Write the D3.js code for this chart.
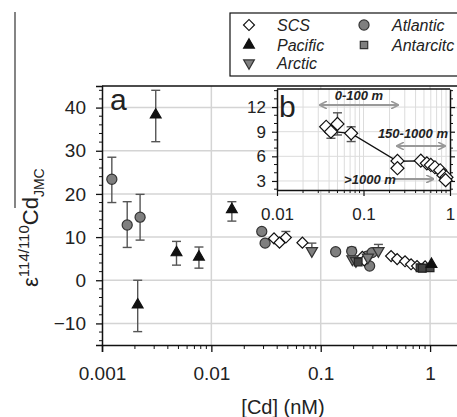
<!DOCTYPE html>
<html>
<head>
<meta charset="utf-8">
<script src="https://cdn.jsdelivr.net/npm/d3@7"></script>
<style>
  body { margin: 0; background: #fff; }
  svg text { font-family: "Liberation Sans", Arial, sans-serif; fill: #222; }
</style>
</head>
<body>
<svg id="chart" width="457" height="417"></svg>
<script>
// main panel (a) data, [Cd] in nM, epsilon values, error bar ends (null = none)
var scsX  = [0.0374, 0.042, 0.048, 0.068, 0.24, 0.25, 0.44, 0.5, 0.59, 0.67, 0.76, 0.9];
var scsY  = [9.7, 8.7, 9.9, 8.7, 5.4, 4.6, 5.6, 4.9, 4.4, 3.7, 3.3, 3.2];
var scsHi = [null, null, 11.3, null, null, null, null, null, null, null, null, null];

var pacX  = [0.00212, 0.0031, 0.0048, 0.0077, 0.0154, 1.03];
var pacY  = [-5.7, 38.3, 6.4, 5.4, 16.4, 3.7];
var pacLo = [-11.9, 32.1, 3.5, 2.8, 13.7, null];
var pacHi = [0, 44, 9, 7.7, 18.2, null];

var arcX  = [0.083, 0.195, 0.21, 0.27, 0.337];
var arcY  = [6.8, 4.9, 4.5, 5.3, 6.8];
var arcHi = [8.6, null, null, null, 8.3];

var atlX  = [0.00123, 0.0017, 0.00223, 0.0289, 0.031, 0.137, 0.192, 0.265, 0.28, 0.295];
var atlY  = [23.4, 12.8, 14.6, 11.3, 8.6, 6.6, 6.7, 5.6, 3.3, 6.4];
var atlLo = [18, 7.6, 9.3, null, null, null, null, null, null, null];
var atlHi = [28.5, 18.2, 19.9, null, null, null, 7.6, null, null, null];

var antX  = [0.22, 0.81, 0.85, 1.0];
var antY  = [4.2, 2.9, 2.8, 2.9];

// inset (b) SCS data
var insX  = [0.037, 0.042, 0.050, 0.072, 0.247, 0.247, 0.46, 0.54, 0.60, 0.67, 0.77, 0.84, 0.91, 0.89];
var insY  = [9.6, 9.0, 9.95, 8.8, 5.44, 4.55, 5.47, 5.15, 4.95, 4.67, 4.3, 3.7, 3.45, 3.1];
var insLo = [null, 8.2, 8.6, 7.8, null, null, null, null, null, null, null, null, null, null];
var insHi = [null, null, 11.3, 9.6, null, null, null, null, null, null, null, null, null, null];
var trendX = [0.043, 0.072, 0.247, 0.46, 0.60, 0.77, 0.90];
var trendY = [9.0, 8.8, 5.4, 5.45, 4.95, 4.3, 3.3];

// depth ranges drawn as arrows in inset
var depthLabels = ["0-100 m", "150-1000 m", ">1000 m"];
var depthFrom   = [0.0314, 0.245, 0.23];
var depthTo     = [0.25, 0.875, 0.64];
var depthEps    = [12.25, 7.26, 3.24];

var yTicks = [-10, 0, 10, 20, 30, 40];
var xTicks = [0.001, 0.01, 0.1, 1];
var xTickLabels = ["0.001", "0.01", "0.1", "1"];
var yiTicks = [3, 6, 9, 12];
var xiTicks = [0.01, 0.1, 1];
var xiTickLabels = ["0.01", "0.1", "1"];

var legNames = ["SCS", "Pacific", "Arctic", "Atlantic", "Antarcitc"];

var svg = d3.select("#chart");

var x = d3.scaleLog().domain([0.001, 2]).range([102, 463]);
var y = d3.scaleLinear().domain([-15, 45]).range([345, 86]);

var gridCol = "#d4d4d4";

// gridlines
svg.append("g").selectAll("line").data(yTicks).enter().append("line")
    .attr("x1", 102).attr("x2", 457)
    .attr("y1", function(d){ return y(d); }).attr("y2", function(d){ return y(d); })
    .attr("stroke", gridCol).attr("stroke-width", 1.5);
svg.append("g").selectAll("line").data(xTicks.slice(1)).enter().append("line")
    .attr("x1", function(d){ return x(d); }).attr("x2", function(d){ return x(d); })
    .attr("y1", 86).attr("y2", 345)
    .attr("stroke", gridCol).attr("stroke-width", 1.5);

// frame top
svg.append("line").attr("x1", 102).attr("x2", 457).attr("y1", 86).attr("y2", 86)
    .attr("stroke", "#111").attr("stroke-width", 1.5);

// axes
var minorY = d3.range(-14, 45, 2).filter(function(d){ return d % 10 !== 0; });
var gy = svg.append("g").attr("transform", "translate(102,0)")
    .call(d3.axisLeft(y).tickValues(yTicks).tickSize(6).tickPadding(10).tickFormat(d3.format("d")));
gy.append("g").selectAll("line").data(minorY).enter().append("line")
    .attr("x1", -3).attr("x2", 0)
    .attr("y1", function(d){ return y(d); }).attr("y2", function(d){ return y(d); })
    .attr("stroke", "#111");

var minorX = [];
[0.001, 0.01, 0.1, 1].forEach(function(dec) {
    for (var k = 2; k <= 9; k++) if (dec * k <= 2) minorX.push(dec * k);
});
var gx = svg.append("g").attr("transform", "translate(0,345)")
    .call(d3.axisBottom(x).tickValues(xTicks).tickSize(7).tickPadding(15)
        .tickFormat(function(d, i){ return xTickLabels[i]; }));
gx.append("g").selectAll("line").data(minorX).enter().append("line")
    .attr("x1", function(d){ return x(d); }).attr("x2", function(d){ return x(d); })
    .attr("y1", 0).attr("y2", 4).attr("stroke", "#111");

[gx, gy].forEach(function(g) {
    g.select(".domain").attr("stroke", "#111").attr("stroke-width", 1.5);
    g.selectAll(".tick line").attr("stroke", "#111").attr("stroke-width", 1.3);
    g.selectAll("text").style("font-size", "19px").attr("fill", "#222")
        .style("font-family", "Liberation Sans, Arial, sans-serif");
});

// symbols
var diamond = d3.symbol().type(d3.symbolSquare);
var tri = d3.symbol().type(d3.symbolTriangle);
var circ = d3.symbol().type(d3.symbolCircle);
var sq = d3.symbol().type(d3.symbolSquare);

function errBars(g, xs, ys, lo, hi, sx, sy) {
    xs.forEach(function(v, i) {
        var top = hi && hi[i] != null ? hi[i] : ys[i];
        var bot = lo && lo[i] != null ? lo[i] : ys[i];
        if (top === ys[i] && bot === ys[i]) return;
        var cx = sx(v);
        g.append("line").attr("x1", cx).attr("x2", cx)
            .attr("y1", sy(top)).attr("y2", sy(bot))
            .attr("stroke", "#555").attr("stroke-width", 1.4);
        [top, bot].forEach(function(e) {
            if (e === ys[i]) return;
            g.append("line").attr("x1", cx - 4.5).attr("x2", cx + 4.5)
                .attr("y1", sy(e)).attr("y2", sy(e))
                .attr("stroke", "#555").attr("stroke-width", 1.4);
        });
    });
}

function marks(g, xs, ys, gen, size, rot, fill, stroke, sx, sy) {
    g.append("g").selectAll("path").data(xs).enter().append("path")
        .attr("d", gen.size(size))
        .attr("transform", function(d, i){
            return "translate(" + sx(d) + "," + sy(ys[i]) + ") rotate(" + rot + ")";
        })
        .attr("fill", fill).attr("stroke", stroke).attr("stroke-width", 1.2);
}

var pts = svg.append("g");
errBars(pts, atlX, atlY, atlLo, atlHi, x, y);
errBars(pts, pacX, pacY, pacLo, pacHi, x, y);
errBars(pts, arcX, arcY, null, arcHi, x, y);
errBars(pts, scsX, scsY, null, scsHi, x, y);
marks(pts, atlX, atlY, circ, 80, 0, "#7f7f7f", "#333", x, y);
marks(pts, scsX, scsY, diamond, 60, 45, "#fff", "#111", x, y);
marks(pts, arcX, arcY, tri, 55, 180, "#7f7f7f", "#333", x, y);
marks(pts, antX, antY, sq, 60, 0, "#444", "#222", x, y);
marks(pts, pacX, pacY, tri, 50, 0, "#111", "#111", x, y);

// panel letter
svg.append("text").attr("x", 110).attr("y", 110).text("a").style("font-size", "30px");

// inset (b)
var xi = d3.scaleLog().domain([0.01, 1]).range([277, 450]);
var yi = d3.scaleLinear().domain([1.9, 14.2]).range([190, 89]);
var ins = svg.append("g");
ins.append("rect").attr("x", 277).attr("y", 89).attr("width", 173).attr("height", 101)
    .attr("fill", "#fff");
var minorXi = [];
[0.01, 0.1].forEach(function(dec) { for (var k = 2; k <= 9; k++) minorXi.push(dec * k); });
ins.append("g").selectAll("line").data(minorXi.concat([0.1])).enter().append("line")
    .attr("x1", function(d){ return xi(d); }).attr("x2", function(d){ return xi(d); })
    .attr("y1", 89).attr("y2", 190).attr("stroke", "#dcdcdc").attr("stroke-width", 1);
ins.append("g").selectAll("line").data(yiTicks).enter().append("line")
    .attr("x1", 277).attr("x2", 450)
    .attr("y1", function(d){ return yi(d); }).attr("y2", function(d){ return yi(d); })
    .attr("stroke", "#dcdcdc").attr("stroke-width", 1);

var minorYi = d3.range(2, 15, 1).filter(function(d){ return d % 3 !== 0; });
var giy = ins.append("g").attr("transform", "translate(277,0)")
    .call(d3.axisLeft(yi).tickValues(yiTicks).tickSize(5).tickPadding(6).tickSizeOuter(0));
giy.append("g").selectAll("line").data(minorYi).enter().append("line")
    .attr("x1", -3).attr("x2", 0)
    .attr("y1", function(d){ return yi(d); }).attr("y2", function(d){ return yi(d); })
    .attr("stroke", "#111");
var giyR = ins.append("g").attr("transform", "translate(450,0)")
    .call(d3.axisRight(yi).tickValues(yiTicks).tickSize(5).tickSizeOuter(0).tickFormat(""));
giyR.append("g").selectAll("line").data(minorYi).enter().append("line")
    .attr("x1", 0).attr("x2", 3)
    .attr("y1", function(d){ return yi(d); }).attr("y2", function(d){ return yi(d); })
    .attr("stroke", "#111");
var gix = ins.append("g").attr("transform", "translate(0,190)")
    .call(d3.axisBottom(xi).tickValues(xiTicks).tickSize(6).tickPadding(12).tickSizeOuter(0)
        .tickFormat(function(d, i){ return xiTickLabels[i]; }));
gix.append("g").selectAll("line").data(minorXi).enter().append("line")
    .attr("x1", function(d){ return xi(d); }).attr("x2", function(d){ return xi(d); })
    .attr("y1", 0).attr("y2", 3).attr("stroke", "#111");
[gix, giy, giyR].forEach(function(g) {
    g.select(".domain").attr("stroke", "#111").attr("stroke-width", 1.5);
    g.selectAll(".tick line").attr("stroke", "#111").attr("stroke-width", 1.2);
    g.selectAll("text").style("font-size", "17px").attr("fill", "#222")
        .style("font-family", "Liberation Sans, Arial, sans-serif");
});
ins.append("line").attr("x1", 277).attr("x2", 450).attr("y1", 89).attr("y2", 89)
    .attr("stroke", "#111").attr("stroke-width", 1.5);

// depth arrows
var defs = svg.append("defs");
defs.append("marker").attr("id", "ah").attr("viewBox", "0 0 10 10")
    .attr("refX", 9).attr("refY", 5).attr("markerWidth", 4).attr("markerHeight", 4)
    .attr("orient", "auto-start-reverse")
    .append("path").attr("d", "M0,0 L10,5 L0,10").attr("fill", "none")
    .attr("stroke", "#999").attr("stroke-width", 2);
depthLabels.forEach(function(lab, i) {
    var ln = ins.append("line")
        .attr("x1", xi(depthFrom[i])).attr("x2", xi(depthTo[i]))
        .attr("y1", yi(depthEps[i])).attr("y2", yi(depthEps[i]))
        .attr("stroke", "#999").attr("stroke-width", 2)
        .attr("marker-end", "url(#ah)");
    if (i < 2) ln.attr("marker-start", "url(#ah)");
});
ins.append("text").attr("x", (xi(depthFrom[0]) + xi(depthTo[0])) / 2).attr("y", yi(depthEps[0]) - 5)
    .attr("text-anchor", "middle").text(depthLabels[0]);
ins.append("text").attr("x", 448).attr("y", yi(depthEps[1]) - 8)
    .attr("text-anchor", "end").text(depthLabels[1]);
ins.append("text").attr("x", xi(depthFrom[2]) + 1).attr("y", yi(depthEps[2]) + 5)
    .attr("text-anchor", "end").text(depthLabels[2]);
ins.selectAll("text").filter(function(){ return depthLabels.indexOf(this.textContent) >= 0; })
    .style("font-size", "13px").style("font-style", "italic").style("font-weight", "bold")
    .attr("fill", "#333");

// trend line and points
ins.append("path")
    .datum(trendX)
    .attr("d", d3.line().x(function(d){ return xi(d); }).y(function(d, i){ return yi(trendY[i]); }))
    .attr("fill", "none").attr("stroke", "#111").attr("stroke-width", 1.3);
errBars(ins, insX, insY, insLo, insHi, xi, yi);
marks(ins, insX, insY, diamond, 85, 45, "#fff", "#111", xi, yi);

ins.append("text").attr("x", 279).attr("y", 117).text("b").style("font-size", "30px");

// legend
var leg = svg.append("g");
leg.append("rect").attr("x", 230).attr("y", 13).attr("width", 240).attr("height", 63)
    .attr("fill", "#fff").attr("stroke", "#111").attr("stroke-width", 1.2);
var legPos = [[249, 25], [249, 45], [249, 63], [364, 25], [364, 45]];
var legSym = [
    [diamond, 60, 45, "#fff", "#111"],
    [tri, 50, 0, "#111", "#111"],
    [tri, 50, 180, "#7f7f7f", "#333"],
    [circ, 80, 0, "#7f7f7f", "#333"],
    [sq, 55, 0, "#7f7f7f", "#333"]
];
legNames.forEach(function(n, i) {
    var s = legSym[i];
    leg.append("path").attr("d", s[0].size(s[1]))
        .attr("transform", "translate(" + legPos[i][0] + "," + legPos[i][1] + ") rotate(" + s[2] + ")")
        .attr("fill", s[3]).attr("stroke", s[4]).attr("stroke-width", 1.2);
    leg.append("text").attr("x", legPos[i][0] + 28).attr("y", legPos[i][1] + 6)
        .text(n).style("font-size", "16px").style("font-style", "italic");
});

// stray frame line at left
svg.append("line").attr("x1", 15).attr("x2", 15).attr("y1", 12).attr("y2", 208)
    .attr("stroke", "#333").attr("stroke-width", 1.2);

// axis titles
svg.append("text").attr("x", 283).attr("y", 414).attr("text-anchor", "middle")
    .text("[Cd] (nM)").style("font-size", "20px");

var yl = svg.append("text").attr("transform", "translate(38,287) rotate(-90)")
    .attr("text-anchor", "start").style("font-size", "22px");
yl.append("tspan").text("ε");
yl.append("tspan").attr("dy", -9).style("font-size", "15px").text("114/110");
yl.append("tspan").attr("dy", 9).text("Cd");
yl.append("tspan").attr("dy", 6).style("font-size", "14px").text("JMC");
</script>
</body>
</html>
